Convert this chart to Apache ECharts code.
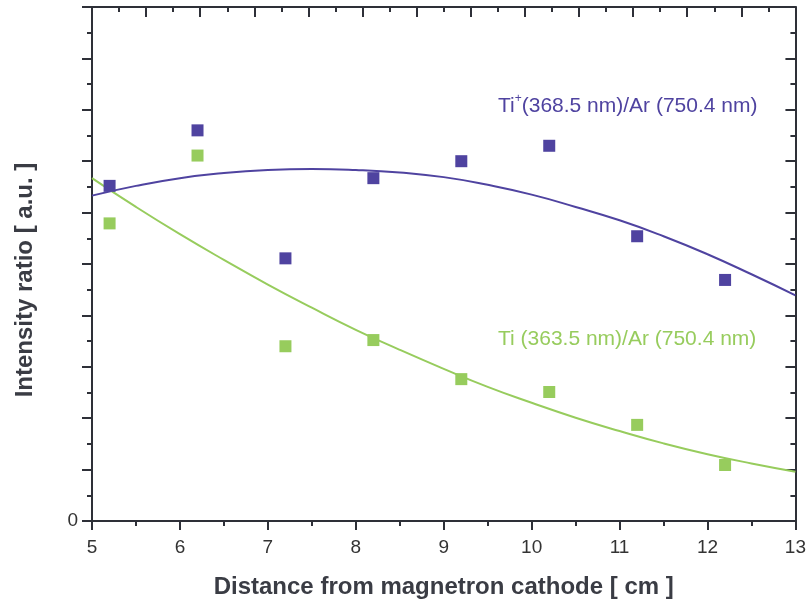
<!DOCTYPE html>
<html>
<head>
<meta charset="utf-8">
<script src="https://cdn.jsdelivr.net/npm/echarts@6/dist/echarts.min.js"></script>
<style>html,body{margin:0;padding:0;background:#fff}#c{width:809px;height:604px}</style>
</head>
<body>
<div id="c"></div>
<script>
// measured points
const xPoints = [5.2, 6.2, 7.2, 8.2, 9.2, 10.2, 11.2, 12.2];
const tiIonRatio = [6.52, 7.60, 5.11, 6.67, 7.00, 7.30, 5.54, 4.69];
const tiRatio = [5.79, 7.11, 3.40, 3.52, 2.76, 2.51, 1.87, 1.09];
// fitted curves
const xCurve = [5, 5.5, 6, 6.5, 7, 7.5, 8, 8.5, 9, 9.5, 10, 10.5, 11, 11.5, 12, 12.5, 13];
const tiIonCurve = [6.33, 6.52, 6.67, 6.77, 6.83, 6.85, 6.83, 6.78, 6.69, 6.54, 6.35, 6.11, 5.85, 5.54, 5.19, 4.80, 4.39];
const tiCurve = [6.67, 6.11, 5.58, 5.08, 4.60, 4.15, 3.72, 3.33, 2.96, 2.61, 2.30, 2.01, 1.75, 1.51, 1.30, 1.12, 0.96];
const xTickLabels = ['5','6','7','8','9','10','11','12','13'];
const yTickLabels = ['0'];

const blue = '#4f43a0';
const green = '#97cc5d';
const axisCol = '#2e3038';
const font = 'Liberation Sans, Arial, sans-serif';

const zip = (xs, ys) => xs.map((x, i) => [x, ys[i]]);

const chart = echarts.init(document.getElementById('c'));
chart.setOption({
  animation: false,
  grid: {left: 92, right: 12, top: 7, bottom: 82, containLabel: false},
  xAxis: [{
    type: 'value', position: 'bottom', min: 5, max: 13, interval: 1,
    axisLine: {show: true, onZero: false, lineStyle: {color: axisCol, width: 2}},
    axisTick: {show: true, inside: false, length: 9, lineStyle: {color: axisCol, width: 2}},
    minorTick: {show: true, splitNumber: 2, length: 5, lineStyle: {color: axisCol, width: 2}},
    splitLine: {show: false},
    axisLabel: {color: '#333', fontSize: 19, fontFamily: font, margin: 17,
      formatter: v => xTickLabels.includes(String(v)) ? String(v) : ''},
    name: 'Distance from magnetron cathode [ cm ]', nameLocation: 'middle', nameGap: 54,
    nameTextStyle: {color: '#3a3c44', fontSize: 24, fontWeight: 'bold', fontFamily: font}
  }, {
    type: 'value', position: 'top', min: 0, max: 13, interval: 1,
    axisLine: {show: true, onZero: false, lineStyle: {color: axisCol, width: 2}},
    axisTick: {show: true, inside: true, length: 10, lineStyle: {color: axisCol, width: 2}},
    minorTick: {show: true, splitNumber: 2, length: 5, lineStyle: {color: axisCol, width: 2}},
    splitLine: {show: false}, axisLabel: {show: false}
  }],
  yAxis: [{
    type: 'value', position: 'left', min: 0, max: 10, interval: 1,
    axisLine: {show: true, onZero: false, lineStyle: {color: axisCol, width: 2}},
    axisTick: {show: true, inside: false, length: 10, lineStyle: {color: axisCol, width: 2}},
    minorTick: {show: true, splitNumber: 2, length: 5, lineStyle: {color: axisCol, width: 2}},
    splitLine: {show: false},
    axisLabel: {color: '#333', fontSize: 19, fontFamily: font, margin: 14,
      formatter: v => yTickLabels.includes(String(v)) ? String(v) : ''}
  }, {
    type: 'value', position: 'right', min: 0, max: 10, interval: 1,
    axisLine: {show: true, onZero: false, lineStyle: {color: axisCol, width: 2}},
    axisTick: {show: true, inside: true, length: 10, lineStyle: {color: axisCol, width: 2}},
    minorTick: {show: true, splitNumber: 2, length: 5, lineStyle: {color: axisCol, width: 2}},
    splitLine: {show: false}, axisLabel: {show: false}
  }],
  series: [
    {type: 'line', name: 'Ti+ fit', data: zip(xCurve, tiIonCurve), smooth: true, showSymbol: false,
      lineStyle: {color: blue, width: 2}, z: 2},
    {type: 'line', name: 'Ti fit', data: zip(xCurve, tiCurve), smooth: true, showSymbol: false,
      lineStyle: {color: green, width: 2}, z: 2},
    {type: 'scatter', name: 'Ti+', data: zip(xPoints, tiIonRatio), symbol: 'rect', symbolSize: 12,
      itemStyle: {color: blue, opacity: 1}, z: 3},
    {type: 'scatter', name: 'Ti', data: zip(xPoints, tiRatio), symbol: 'rect', symbolSize: 12,
      itemStyle: {color: green, opacity: 1}, z: 3}
  ],
  graphic: [
    {type: 'text', x: 25, y: 280, rotation: Math.PI / 2, style: {
      text: 'Intensity ratio [ a.u. ]', fill: '#3a3c44', fontSize: 24, fontWeight: 'bold', fontFamily: font,
      align: 'center', verticalAlign: 'middle'
    }},
    {type: 'text', left: 498, top: 93, style: {
      text: '{a|Ti}{s|+}{a|(368.5 nm)/Ar (750.4 nm)}',
      rich: {
        a: {fill: blue, fontSize: 21, fontFamily: font, lineHeight: 24, verticalAlign: 'bottom'},
        s: {fill: blue, fontSize: 12, fontFamily: font, lineHeight: 24, verticalAlign: 'top', padding: [0, 0, 12, 0]}
      }
    }},
    {type: 'text', left: 498, top: 329, style: {
      text: 'Ti (363.5 nm)/Ar (750.4 nm)', fill: green, fontSize: 21, fontFamily: font
    }}
  ]
});
</script>
</body>
</html>
